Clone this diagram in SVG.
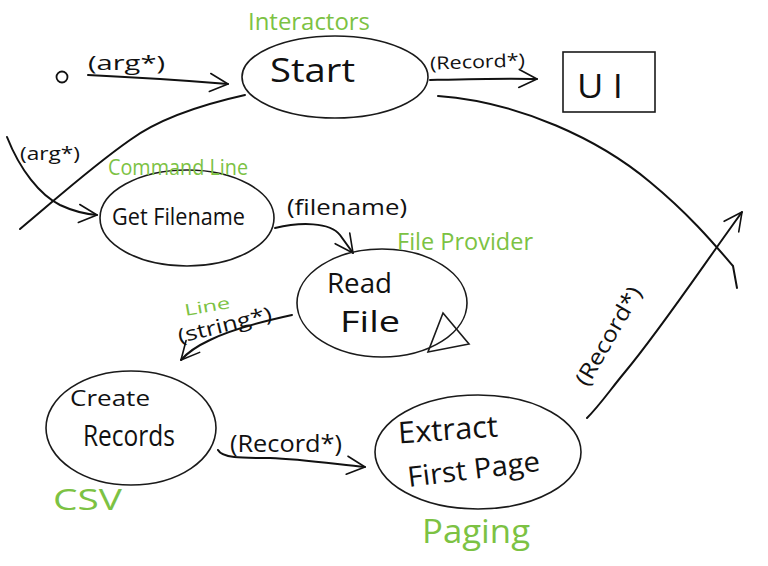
<svg xmlns="http://www.w3.org/2000/svg" width="768" height="566" viewBox="0 0 768 566">
<defs>
<style>
.node{fill:none;stroke:#1a1a1a;stroke-width:1.6}
.conn{fill:none;stroke:#111;stroke-width:2;stroke-linecap:round;stroke-linejoin:round}
.t{font-family:"Open Sans","Liberation Sans",sans-serif;fill:#111}
.g{font-family:"Open Sans","Liberation Sans",sans-serif;fill:#7cc243}
</style>
<marker id="arr" viewBox="0 0 12 12" refX="11" refY="6" markerWidth="12" markerHeight="12" markerUnits="userSpaceOnUse" orient="auto">
<path d="M1,1 L11,6 L1,11" fill="none" stroke="#111" stroke-width="1.6" stroke-linecap="round" stroke-linejoin="round"/>
</marker>
<marker id="arrL" viewBox="0 0 22 22" refX="20" refY="11" markerWidth="22" markerHeight="22" markerUnits="userSpaceOnUse" orient="auto">
<path d="M2,2 L20,11 L2,20" fill="none" stroke="#111" stroke-width="1.6" stroke-linecap="round" stroke-linejoin="round"/>
</marker>
</defs>
<rect width="768" height="566" fill="#fff"/>

<g id="connectors">
<path class="conn" marker-end="url(#arrL)" d="M88,75 C130,77 180,80 228,84"/>
<path class="conn" marker-end="url(#arrL)" d="M430,80 C470,79 505,78 537,79"/>
<path class="conn" d="M438,96 C520,102 600,140 650,182 C690,215 715,245 733,266 L737,288"/>
<path class="conn" d="M245,95 C200,105 160,118 130,140 C90,168 55,200 20,229"/>
<path class="conn" marker-end="url(#arrL)" d="M7,137 C20,170 40,195 60,205 C75,212 85,214 97,215"/>
<path class="conn" marker-end="url(#arrL)" d="M275,228 C300,222 330,222 340,235 L353,253"/>
<path class="conn" marker-end="url(#arrL)" d="M292,315 C260,322 230,330 210,340 C195,347 188,352 181,360"/>
<path class="conn" marker-end="url(#arrL)" d="M218,450 C222,458 240,458 270,458 C300,459 335,464 365,467"/>
<path class="conn" marker-end="url(#arrL)" d="M587,418 C600,405 610,390 625,372 C660,330 700,270 742,212"/>
<text class="t" x="88" y="70" font-size="20" textLength="77" lengthAdjust="spacingAndGlyphs">(arg*)</text>
<text class="t" x="430" y="68" font-size="18" textLength="95" lengthAdjust="spacingAndGlyphs" transform="rotate(-2 477 62)">(Record*)</text>
<text class="t" x="20" y="160" font-size="18" textLength="60" lengthAdjust="spacingAndGlyphs">(arg*)</text>
<text class="t" x="287" y="215" font-size="22" textLength="120" lengthAdjust="spacingAndGlyphs">(filename)</text>
<text class="g" x="184" y="312" font-size="16" textLength="46" lengthAdjust="spacingAndGlyphs" transform="rotate(-10 207 305)">Line</text>
<text class="t" x="176" y="332" font-size="20" textLength="96" lengthAdjust="spacingAndGlyphs" transform="rotate(-14 224 322)">(string*)</text>
<text class="t" x="230" y="452" font-size="24" textLength="112" lengthAdjust="spacingAndGlyphs">(Record*)</text>
<text class="t" x="555" y="345" font-size="22" textLength="110" lengthAdjust="spacingAndGlyphs" transform="rotate(-60 608 338)">(Record*)</text>
</g>

<g id="entry">
<circle cx="62" cy="77" r="5.5" fill="none" stroke="#111" stroke-width="1.8"/>
</g>

<g id="start">
<ellipse class="node" cx="335" cy="77" rx="93" ry="41"/>
<text class="t" x="270" y="82" font-size="32" textLength="85" lengthAdjust="spacingAndGlyphs">Start</text>
<text class="g" x="248" y="30" font-size="24" textLength="122" lengthAdjust="spacingAndGlyphs">Interactors</text>
</g>

<g id="ui">
<rect class="node" x="563" y="52" width="92" height="60"/>
<text class="t" x="577" y="98" font-size="32" textLength="46" lengthAdjust="spacingAndGlyphs">U I</text>
</g>

<g id="getfilename">
<ellipse class="node" cx="187" cy="218" rx="87" ry="48"/>
<text class="t" x="112" y="225" font-size="24" textLength="133" lengthAdjust="spacingAndGlyphs">Get Filename</text>
<text class="g" x="108" y="175" font-size="22" textLength="140" lengthAdjust="spacingAndGlyphs">Command Line</text>
</g>

<g id="readfile">
<ellipse class="node" cx="382" cy="303" rx="85" ry="54"/>
<path class="node" d="M443,313 L469,344 L428,352 Z"/>
<text class="t" x="327" y="293" font-size="28" textLength="65" lengthAdjust="spacingAndGlyphs">Read</text>
<text class="t" x="340" y="332" font-size="30" textLength="60" lengthAdjust="spacingAndGlyphs">File</text>
<text class="g" x="397" y="250" font-size="24" textLength="136" lengthAdjust="spacingAndGlyphs">File Provider</text>
</g>

<g id="createrecords">
<ellipse class="node" cx="131" cy="428" rx="85" ry="57"/>
<text class="t" x="70" y="406" font-size="22" textLength="80" lengthAdjust="spacingAndGlyphs">Create</text>
<text class="t" x="83" y="446" font-size="30" textLength="92" lengthAdjust="spacingAndGlyphs">Records</text>
<text class="g" x="53" y="510" font-size="30" textLength="69" lengthAdjust="spacingAndGlyphs">CSV</text>
</g>

<g id="extractfirstpage">
<ellipse class="node" cx="478" cy="452" rx="103" ry="57"/>
<text class="t" x="398" y="440" font-size="30" textLength="100" lengthAdjust="spacingAndGlyphs" transform="rotate(-4 448 430)">Extract</text>
<text class="t" x="407" y="479" font-size="28" textLength="133" lengthAdjust="spacingAndGlyphs" transform="rotate(-7 473 468)">First Page</text>
<text class="g" x="422" y="543" font-size="32" textLength="108" lengthAdjust="spacingAndGlyphs">Paging</text>
</g>
</svg>
